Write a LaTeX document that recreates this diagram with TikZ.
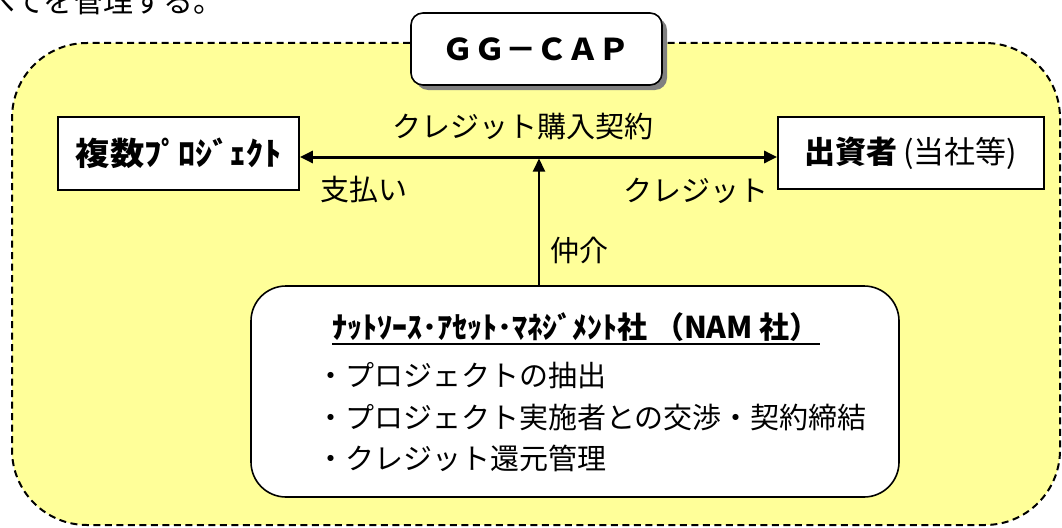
\documentclass[tikz,border=0pt]{standalone}
\usepackage{fontspec}
\usepackage{graphicx}
\newfontfamily\jp{Noto Sans CJK JP}
\usetikzlibrary{arrows.meta,shadows}
\definecolor{bgyellow}{HTML}{FFFF99}
\definecolor{shgray}{HTML}{808080}
\newcommand{\fsz}[1]{\fontsize{#1}{#1}\selectfont}
\begin{document}
\begin{tikzpicture}[x=1pt,y=-1pt,
  >={Triangle[length=13pt,width=12pt]},
  every node/.style={inner sep=0pt},
  lbl/.style={font=\jp\fsz{29pt}},
  bgbox/.style={draw, fill=bgyellow, line width=2pt, dash pattern=on 7pt off 4.5pt, rounded corners=75pt},
  sqbox/.style={draw, fill=white, line width=1.8pt},
  capbox/.style={draw, fill=white, line width=1.6pt, rounded corners=12pt,
     drop shadow={shadow xshift=5pt, shadow yshift=-5pt, fill=shgray, opacity=1}},
  rbox/.style={draw, fill=white, line width=1.6pt, rounded corners=35pt},
  mainline/.style={line width=3pt},
  subline/.style={line width=2pt},
]
\clip (0,0) rectangle (1062,527);
% cut-off text at the top
\node[font=\jp\fsz{30pt}, anchor=base west] (toptext) at (-15,13) {べてを管理する。};
% background area
\node[bgbox, minimum width=1048pt, minimum height=482pt] (bg) at (536,284) {};
% title box
\node[capbox, minimum width=251pt, minimum height=72pt, font=\jp\bfseries\fsz{30pt}] (cap) at (536.5,49) {\scalebox{1.04}[1]{ＧＧ－ＣＡＰ}};
% boxes
\node[sqbox, minimum width=241pt, minimum height=73pt, font=\jp\bfseries\fsz{32pt}] (proj) at (178.5,153.5) {\scalebox{1.07}[1]{複数ﾌﾟﾛｼﾞｪｸﾄ}};
\node[sqbox, minimum width=266pt, minimum height=72pt, font=\jp\fsz{31pt}] (inv) at (911,153) {{\bfseries 出資者}\,(当社等)};
\node[rbox, minimum width=648pt, minimum height=211pt] (nam) at (575,391.5) {};
% connectors
\coordinate (mid) at (539,157);
\draw[mainline, <->] (proj.east |- mid) -- (inv.west |- mid);
\draw[subline, ->] (nam.north -| mid) -- ([yshift=-1.5pt]mid);
% labels
\node[lbl, anchor=base west] (contract) at (392,137) {クレジット購入契約};
\node[lbl, anchor=base west] (pay) at (320,200) {支払い};
\node[lbl, anchor=base west] (credit) at (623,201) {クレジット};
\node[lbl, anchor=base west] (broker) at (550,261) {仲介};
% NAM box contents
\node[font=\jp\bfseries\fsz{30pt}, anchor=base west] (ttl) at (332,338) {ﾅｯﾄｿｰｽ･ｱｾｯﾄ･ﾏﾈｼﾞﾒﾝﾄ社 （NAM 社）};
\draw[line width=2pt] ([yshift=-6pt]ttl.base west) -- ([yshift=-6pt]ttl.base east);
\node[lbl, anchor=base west] (b1) at (316,386) {・プロジェクトの抽出};
\node[lbl, anchor=base west] (b2) at (316,428) {・プロジェクト実施者との交渉・契約締結};
\node[lbl, anchor=base west] (b3) at (316,469) {・クレジット還元管理};
\end{tikzpicture}
\end{document}
